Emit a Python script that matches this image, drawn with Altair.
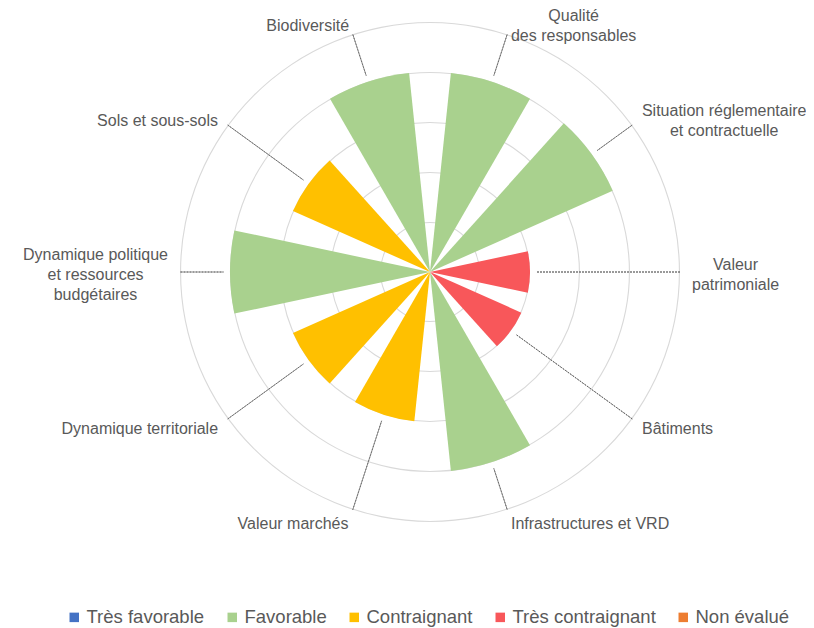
import math
import altair as alt
import pandas as pd

# ---------------- data ----------------
categories = [
    "Qualité\ndes responsables",
    "Situation réglementaire\net contractuelle",
    "Valeur\npatrimoniale",
    "Bâtiments",
    "Infrastructures et VRD",
    "Valeur marchés",
    "Dynamique territoriale",
    "Dynamique politique\net ressources\nbudgétaires",
    "Sols et sous-sols",
    "Biodiversité",
]
scores = [4, 4, 2, 2, 4, 3, 3, 4, 3, 4]
statuses = [
    "Favorable", "Favorable", "Très contraignant", "Très contraignant",
    "Favorable", "Contraignant", "Contraignant", "Favorable",
    "Contraignant", "Favorable",
]
status_levels = ["Très favorable", "Favorable", "Contraignant", "Très contraignant", "Non évalué"]
status_colors = ["#4472C4", "#A9D18E", "#FFC000", "#F8575A", "#ED7D31"]
grid_levels = [1, 2, 3, 4, 5]

# ---------------- layout / style ----------------
W, H = 798, 620
CX, CY = 422, 264
R_MAX_PX = 250
SCORE_MAX = 5
LABEL_R = 262
FS = 16
LH = 20
FONT = "Liberation Sans"
TEXT = "#595959"
GRID_W = 0.022  # ring thickness in score units (~1px)

# Arial / Liberation Sans advance widths (1/1000 em)
_W = {}
for chars, w in [
    ("ijl", 222), ("ftI î", 278), ("r-", 333), ("ckrsvxyzJ", 500),
    ("abdeghnopquéèêâàL", 556), ("FTZ", 611), ("ABEKPSVXY", 667),
    ("wCDHNRU", 722), ("GOQ", 778), ("mM", 833), ("W", 944),
]:
    for ch in chars:
        _W.setdefault(ch, w)
_W["r"] = 333
_W["s"] = 500
_W["c"] = 500


def text_width(s, size):
    return size * sum(_W.get(ch, 556) for ch in s) / 1000


n = len(categories)
step = 360 / n
rows = []
for i, (cat, sc, st) in enumerate(zip(categories, scores, statuses)):
    mid = step * i + step / 2
    a = math.radians(mid)
    lines = cat.split("\n")
    w = max(text_width(l, FS) for l in lines)
    s = math.sin(a)
    side = 1 if s > 0.05 else (-1 if s < -0.05 else 0)
    vx = CX + LABEL_R * s + side * w / 2
    vy = CY - LABEL_R * math.cos(a) + 2
    top = vy - (len(lines) - 1) * LH / 2 - 0.43 * FS
    rows.append(dict(label=cat, score=sc, status=st,
                     t0=mid - step / 3, t1=mid + step / 3, tm=mid,
                     lead0=sc + 0.13, lead1=5.0, lx=vx, ly=top))
df = pd.DataFrame(rows)
grid_df = pd.DataFrame({
    "level": grid_levels,
    "inner": [g - GRID_W for g in grid_levels],
    "g0": [0] * len(grid_levels),
    "g1": [360] * len(grid_levels),
})

theta_scale = alt.Scale(domain=[0, 360], range=[0, 2 * math.pi])
r_scale = alt.Scale(type="linear", domain=[0, SCORE_MAX], range=[0, R_MAX_PX], zero=True)

grid = alt.Chart(grid_df).mark_arc(color="#D9D9D9").encode(
    x=alt.value(CX), y=alt.value(CY),
    theta=alt.Theta("g0:Q", scale=theta_scale, stack=False),
    theta2="g1:Q",
    radius=alt.Radius("level:Q", scale=r_scale),
    radius2="inner:Q",
)

bars = alt.Chart(df).mark_arc().encode(
    x=alt.value(CX), y=alt.value(CY),
    theta=alt.Theta("t0:Q", scale=theta_scale, stack=False),
    theta2="t1:Q",
    radius=alt.Radius("score:Q", scale=r_scale),
    radius2=alt.value(0),
    color=alt.Color(
        "status:N",
        scale=alt.Scale(domain=status_levels, range=status_colors),
        legend=alt.Legend(
            title=None, orient="none", legendX=57, legendY=600,
            direction="horizontal", columns=5, symbolType="square",
            symbolSize=90, symbolStrokeWidth=0, labelFontSize=18.5,
            labelFont=FONT, labelColor=TEXT, labelOffset=3,
            columnPadding=18, padding=0,
        ),
    ),
)

leaders = alt.Chart(df).mark_arc(
    fillOpacity=0, stroke="#595959", strokeWidth=0.75, strokeDash=[2, 1]
).encode(
    x=alt.value(CX), y=alt.value(CY),
    theta=alt.Theta("tm:Q", scale=theta_scale, stack=False),
    theta2="tm:Q",
    radius=alt.Radius("lead1:Q", scale=r_scale),
    radius2="lead0:Q",
)

labels = alt.Chart(df).mark_text(
    align="center", baseline="top", lineBreak="\n", lineHeight=LH,
    font=FONT, fontSize=FS, color=TEXT,
).encode(
    x=alt.X("lx:Q", scale=None, axis=None),
    y=alt.Y("ly:Q", scale=None, axis=None),
    text="label:N",
)

chart = alt.layer(grid, bars, leaders, labels).properties(
    width=W, height=H, autosize="none", padding=0
).configure_view(strokeWidth=0)

chart.save("out.html", embed_options={"renderer": "svg", "actions": False})
